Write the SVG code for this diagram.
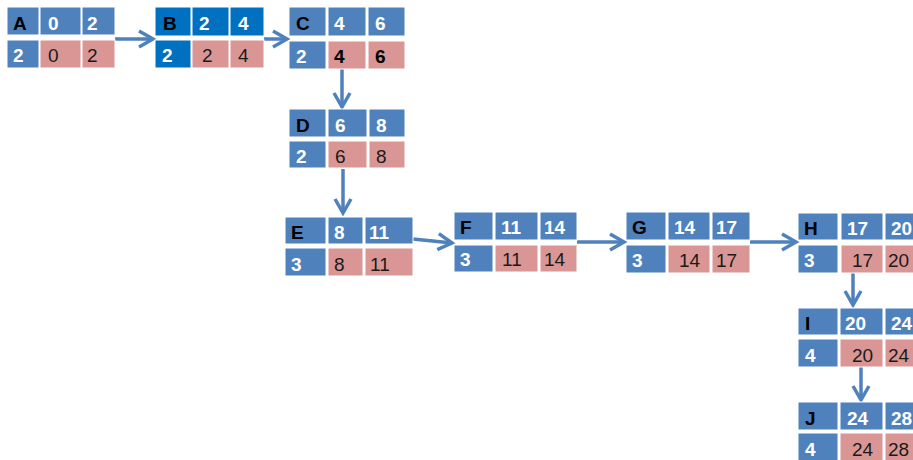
<svg xmlns="http://www.w3.org/2000/svg" width="913" height="460" viewBox="0 0 913 460">
<style>
.b{fill:#4F81BD;stroke:#fff;stroke-width:1}
.d{fill:#0070C0;stroke:#fff;stroke-width:1}
.p{fill:#D99694;stroke:#fff;stroke-width:1}
text{font-family:"Liberation Sans","Open Sans",sans-serif;font-size:19px}
.w{fill:#fff;font-weight:bold}
.k{fill:#000;font-weight:bold}
.n{fill:#1a1a1a}
.c{stroke:#4F81BD;stroke-width:3.5;fill:none;marker-end:url(#ah)}
</style>
<defs>
<marker id="ah" markerUnits="userSpaceOnUse" viewBox="-18 -12 22 24" refX="0" refY="0" markerWidth="22" markerHeight="24" orient="auto">
<path d="M-14,-8 L0,0 L-14,8" fill="none" stroke="#4F81BD" stroke-width="3.5"/>
</marker>
</defs>
<rect width="913" height="460" fill="#fff"/>
<g id="connectors">
<line class="c" x1="115" y1="39" x2="153" y2="39"/>
<line class="c" x1="264" y1="39" x2="287" y2="39"/>
<line class="c" x1="342" y1="69" x2="342" y2="107"/>
<line class="c" x1="343" y1="169" x2="343" y2="213"/>
<line class="c" x1="413" y1="239" x2="452" y2="243"/>
<line class="c" x1="577" y1="242" x2="624" y2="242"/>
<line class="c" x1="750" y1="242" x2="796" y2="242"/>
<line class="c" x1="853" y1="273" x2="853" y2="305"/>
<line class="c" x1="861" y1="367" x2="861" y2="400"/>
</g>
<g id="A">
<rect class="b" x="7" y="7" width="32" height="28"/><rect class="b" x="40" y="7" width="41" height="28"/><rect class="b" x="82" y="7" width="33" height="28"/>
<rect class="b" x="7" y="40" width="32" height="28"/><rect class="p" x="40" y="40" width="41" height="28"/><rect class="p" x="82" y="40" width="33" height="28"/>
<text class="k" x="13" y="30">A</text><text class="w" x="48" y="30">0</text><text class="w" x="87" y="30">2</text>
<text class="w" x="13" y="62">2</text><text class="n" x="48" y="62">0</text><text class="n" x="87" y="62">2</text>
</g>
<g id="B">
<rect class="d" x="155" y="7" width="36" height="29"/><rect class="d" x="192" y="7" width="37" height="29"/><rect class="d" x="230" y="7" width="34" height="29"/>
<rect class="d" x="155" y="40" width="36" height="28"/><rect class="p" x="192" y="40" width="37" height="28"/><rect class="p" x="230" y="40" width="34" height="28"/>
<text class="k" x="163" y="30">B</text><text class="w" x="199" y="30">2</text><text class="w" x="238" y="30">4</text>
<text class="w" x="162" y="62">2</text><text class="n" x="202" y="62">2</text><text class="n" x="238" y="62">4</text>
</g>
<g id="C">
<rect class="b" x="289" y="7" width="37" height="29"/><rect class="b" x="328" y="7" width="38" height="29"/><rect class="b" x="368" y="7" width="37" height="29"/>
<rect class="b" x="289" y="41" width="37" height="28"/><rect class="p" x="328" y="41" width="38" height="28"/><rect class="p" x="368" y="41" width="37" height="28"/>
<text class="k" x="296" y="30">C</text><text class="w" x="334" y="30">4</text><text class="w" x="375" y="30">6</text>
<text class="w" x="296" y="63">2</text><text class="k" x="334" y="63">4</text><text class="k" x="375" y="63">6</text>
</g>
<g id="D">
<rect class="b" x="289" y="109" width="37" height="28"/><rect class="b" x="328" y="109" width="39" height="28"/><rect class="b" x="369" y="109" width="36" height="28"/>
<rect class="b" x="289" y="141" width="37" height="27"/><rect class="p" x="328" y="141" width="39" height="27"/><rect class="p" x="369" y="141" width="36" height="27"/>
<text class="k" x="296" y="132">D</text><text class="w" x="335" y="132">6</text><text class="w" x="376" y="132">8</text>
<text class="w" x="296" y="163">2</text><text class="n" x="335" y="163">6</text><text class="n" x="376" y="163">8</text>
</g>
<g id="E">
<rect class="b" x="285" y="217" width="41" height="27"/><rect class="b" x="328" y="217" width="35" height="27"/><rect class="b" x="365" y="217" width="48" height="27"/>
<rect class="b" x="285" y="248" width="41" height="28"/><rect class="p" x="328" y="248" width="35" height="28"/><rect class="p" x="365" y="248" width="48" height="28"/>
<text class="k" x="291" y="239">E</text><text class="w" x="334" y="239">8</text><text class="w" x="369" y="239">11</text>
<text class="w" x="291" y="271">3</text><text class="n" x="334" y="271">8</text><text class="n" x="370" y="271">11</text>
</g>
<g id="F">
<rect class="b" x="454" y="212" width="39" height="28"/><rect class="b" x="495" y="212" width="43" height="28"/><rect class="b" x="540" y="212" width="37" height="28"/>
<rect class="b" x="454" y="245" width="39" height="27"/><rect class="p" x="495" y="245" width="43" height="27"/><rect class="p" x="540" y="245" width="37" height="27"/>
<text class="k" x="460" y="234">F</text><text class="w" x="501" y="234">11</text><text class="w" x="544" y="234">14</text>
<text class="w" x="460" y="266">3</text><text class="n" x="502" y="266">11</text><text class="n" x="544" y="266">14</text>
</g>
<g id="G">
<rect class="b" x="626" y="212" width="40" height="28"/><rect class="b" x="668" y="212" width="42" height="28"/><rect class="b" x="712" y="212" width="38" height="28"/>
<rect class="b" x="626" y="245" width="40" height="28"/><rect class="p" x="668" y="245" width="42" height="28"/><rect class="p" x="712" y="245" width="38" height="28"/>
<text class="k" x="632" y="234">G</text><text class="w" x="674" y="234">14</text><text class="w" x="716" y="234">17</text>
<text class="w" x="632" y="267">3</text><text class="n" x="679" y="267">14</text><text class="n" x="716" y="267">17</text>
</g>
<g id="H">
<rect class="b" x="798" y="213" width="40" height="27"/><rect class="b" x="841" y="213" width="42" height="27"/><rect class="b" x="885" y="213" width="42" height="27"/>
<rect class="b" x="798" y="245" width="40" height="28"/><rect class="p" x="841" y="245" width="42" height="28"/><rect class="p" x="885" y="245" width="42" height="28"/>
<text class="k" x="804" y="235">H</text><text class="w" x="847" y="235">17</text><text class="w" x="891" y="235">20</text>
<text class="w" x="804" y="267">3</text><text class="n" x="852" y="267">17</text><text class="n" x="888" y="267">20</text>
</g>
<g id="I">
<rect class="b" x="798" y="308" width="40" height="27"/><rect class="b" x="840" y="308" width="43" height="27"/><rect class="b" x="885" y="308" width="42" height="27"/>
<rect class="b" x="798" y="339" width="40" height="28"/><rect class="p" x="840" y="339" width="43" height="28"/><rect class="p" x="885" y="339" width="42" height="28"/>
<text class="k" x="805" y="330">I</text><text class="w" x="845" y="330">20</text><text class="w" x="891" y="330">24</text>
<text class="w" x="805" y="362">4</text><text class="n" x="852" y="362">20</text><text class="n" x="888" y="362">24</text>
</g>
<g id="J">
<rect class="b" x="798" y="402" width="40" height="28"/><rect class="b" x="840" y="402" width="43" height="28"/><rect class="b" x="885" y="402" width="42" height="28"/>
<rect class="b" x="798" y="433" width="40" height="28"/><rect class="p" x="840" y="433" width="43" height="28"/><rect class="p" x="885" y="433" width="42" height="28"/>
<text class="k" x="805" y="425">J</text><text class="w" x="847" y="425">24</text><text class="w" x="891" y="425">28</text>
<text class="w" x="805" y="456">4</text><text class="n" x="852" y="456">24</text><text class="n" x="888" y="456">28</text>
</g>
</svg>
